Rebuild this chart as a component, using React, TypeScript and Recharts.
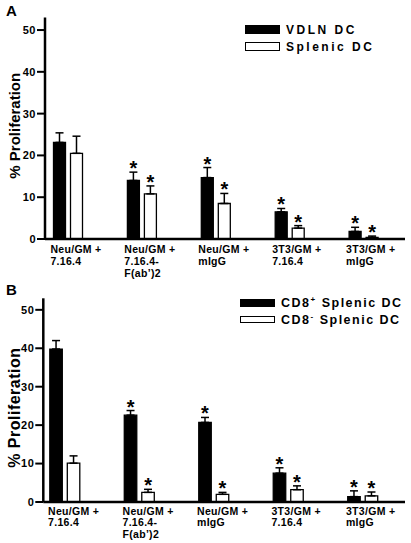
import React from 'react';
import { BarChart, Bar, XAxis, YAxis, ErrorBar, LabelList, Legend, Label } from 'recharts';

// ---------- data ----------
const categories = [
  'Neu/GM +|7.16.4',
  'Neu/GM +|7.16.4-|F(ab\u2019)2',
  'Neu/GM +|mIgG',
  '3T3/GM +|7.16.4',
  '3T3/GM +|mIgG',
];
const yTicks = [0, 10, 20, 30, 40, 50];

// Panel A
const vdln = [23.1, 14.0, 14.7, 6.5, 1.8];
const vdlnErr = [2.3, 2.0, 2.4, 0.8, 1.0];
const vdlnSig = [false, true, true, true, true];
const splenic = [20.5, 10.8, 8.5, 2.6, 0.4];
const splenicErr = [4.1, 1.9, 2.4, 0.6, 0.3];
const splenicSig = [false, true, true, true, true];

// Panel B
const cd8pos = [39.8, 22.6, 20.7, 7.5, 1.4];
const cd8posErr = [2.2, 1.2, 1.3, 1.4, 1.5];
const cd8posSig = [false, true, true, true, true];
const cd8neg = [10.1, 2.5, 2.0, 3.2, 1.6];
const cd8negErr = [1.9, 0.8, 0.5, 1.0, 1.0];
const cd8negSig = [false, true, true, true, true];

const dataA = categories.map((c, i) => ({
  cat: c,
  s1: vdln[i],
  e1: [0, vdlnErr[i]],
  s2: splenic[i],
  e2: [0, splenicErr[i]],
}));
const dataB = categories.map((c, i) => ({
  cat: c,
  s1: cd8pos[i],
  e1: [0, cd8posErr[i]],
  s2: cd8neg[i],
  e2: [0, cd8negErr[i]],
}));

const FONT = '"Liberation Sans", Arial, Helvetica, sans-serif';

const makeStar = (vals: number[], errs: number[], sig: boolean[]) => (p: any) => {
  const i = p.index;
  if (!sig[i]) return null;
  const x = Number(p.x);
  const y = Number(p.y);
  const w = Number(p.width);
  const h = Number(p.height);
  const unit = h / vals[i];
  const errTop = y - errs[i] * unit;
  return (
    <text
      key={'star' + i}
      x={x + w / 2}
      y={errTop + 3}
      textAnchor="middle"
      fontFamily={FONT}
      fontWeight={700}
      fontSize={20}
      fill="#000"
    >
      *
    </text>
  );
};

const makeXTick = (dx: number, firstDy: number, lineH: number) => (props: any) => {
  const { x, y, payload } = props;
  const lines = String(payload.value).split('|');
  return (
    <g>
      {lines.map((ln, k) => (
        <text
          key={k}
          x={Number(x) + dx}
          y={Number(y) + firstDy + k * lineH}
          textAnchor="start"
          fontFamily={FONT}
          fontWeight={700}
          fontSize={10.5}
          letterSpacing={0.3}
          fill="#000"
        >
          {ln}
        </text>
      ))}
    </g>
  );
};

const yLabel = (cx: number, dy: number, size: number, ls: number) => (props: any) => {
  const vb = props.viewBox || {};
  const cy = Number(vb.y) + Number(vb.height) / 2 + dy;
  return (
    <text
      x={cx}
      y={cy}
      transform={`rotate(-90, ${cx}, ${cy})`}
      textAnchor="middle"
      fontFamily={FONT}
      fontWeight={700}
      fontSize={size}
      letterSpacing={ls}
      fill="#000"
    >
      % Proliferation
    </text>
  );
};

const swatch = (filled: boolean, h: number) => (
  <span
    style={{
      display: 'inline-block',
      width: 35,
      height: h,
      boxSizing: 'border-box',
      background: filled ? '#000' : '#fff',
      border: '1.3px solid #000',
      marginRight: 6,
    }}
  />
);

const LegendA = () => (
  <div style={{ fontFamily: FONT, fontWeight: 700, fontSize: 12, letterSpacing: 2.5, color: '#000' }}>
    <div style={{ display: 'flex', alignItems: 'center', height: 17 }}>
      {swatch(true, 9)}
      VDLN DC
    </div>
    <div style={{ display: 'flex', alignItems: 'center', height: 17 }}>
      {swatch(false, 9)}
      Splenic DC
    </div>
  </div>
);

const supStyle: React.CSSProperties = { fontSize: 8, verticalAlign: 'baseline', position: 'relative', top: -5 };

const LegendB = () => (
  <div style={{ fontFamily: FONT, fontWeight: 700, fontSize: 12.5, letterSpacing: 1.5, color: '#000' }}>
    <div style={{ display: 'flex', alignItems: 'center', height: 17 }}>
      {swatch(true, 8)}
      <span>
        CD8<sup style={supStyle}>+</sup> Splenic DC
      </span>
    </div>
    <div style={{ display: 'flex', alignItems: 'center', height: 17 }}>
      {swatch(false, 7)}
      <span>
        CD8<sup style={supStyle}>-</sup> Splenic DC
      </span>
    </div>
  </div>
);

const tickStyle = { fontFamily: FONT, fontWeight: 700, fontSize: 11, fill: '#000', letterSpacing: 0.5 };

export default function App() {
  return (
    <div style={{ position: 'absolute', left: 0, top: 0, width: 411, height: 543, background: '#fff', overflow: 'hidden' }}>
      <div style={{ position: 'absolute', left: 6, top: 2, fontFamily: FONT, fontWeight: 900, fontSize: 15 }}>A</div>
      <div style={{ position: 'absolute', left: 6, top: 281, fontFamily: FONT, fontWeight: 900, fontSize: 15 }}>B</div>

      <div style={{ position: 'absolute', left: 0, top: 0 }}>
        <BarChart
          width={411}
          height={284}
          data={dataA}
          margin={{ top: 17.5, right: 6, bottom: 0, left: 0 }}
          barSize={12}
          barGap={5}
        >
          <XAxis
            dataKey="cat"
            height={45}
            padding={{ left: -13.5, right: 4 }}
            axisLine={{ stroke: '#000', strokeWidth: 2.5 }}
            tickLine={false}
            tickSize={0}
            tickMargin={0}
            interval={0}
            tick={makeXTick(-18, 14.3, 11.7)}
          />
          <YAxis
            width={45}
            domain={[0, 53]}
            ticks={yTicks}
            allowDataOverflow
            axisLine={{ stroke: '#000', strokeWidth: 2.5 }}
            tickLine={{ stroke: '#000', strokeWidth: 2 }}
            tickSize={8}
            tickMargin={1}
            tick={tickStyle}
          >
            <Label content={yLabel(20, -2.5, 15, 0)} />
          </YAxis>
          <Legend
            layout="vertical"
            align="center"
            verticalAlign="middle"
            content={LegendA}
            wrapperStyle={{ top: 21, left: 245, width: 170 }}
          />
          <Bar dataKey="s1" fill="#000" stroke="#000" strokeWidth={1.3} isAnimationActive={false}>
            <ErrorBar dataKey="e1" width={4} stroke="#000" strokeWidth={1.5} direction="y" />
            <LabelList content={makeStar(vdln, vdlnErr, vdlnSig)} />
          </Bar>
          <Bar dataKey="s2" fill="#fff" stroke="#000" strokeWidth={1.3} isAnimationActive={false}>
            <ErrorBar dataKey="e2" width={4} stroke="#000" strokeWidth={1.5} direction="y" />
            <LabelList content={makeStar(splenic, splenicErr, splenicSig)} />
          </Bar>
        </BarChart>
      </div>

      <div style={{ position: 'absolute', left: 0, top: 270 }}>
        <BarChart
          width={411}
          height={273}
          data={dataB}
          margin={{ top: 28.3, right: 6, bottom: 0, left: 0 }}
          barSize={12.5}
          barGap={5}
        >
          <XAxis
            dataKey="cat"
            height={41}
            padding={{ left: -15.5, right: 4.8 }}
            axisLine={{ stroke: '#000', strokeWidth: 2.5 }}
            tickLine={false}
            tickSize={0}
            tickMargin={0}
            interval={0}
            tick={makeXTick(-17, 13, 11.4)}
          />
          <YAxis
            width={43.3}
            domain={[0, 53]}
            ticks={yTicks}
            allowDataOverflow
            axisLine={{ stroke: '#000', strokeWidth: 2.5 }}
            tickLine={{ stroke: '#000', strokeWidth: 2 }}
            tickSize={8}
            tickMargin={1}
            tick={tickStyle}
          >
            <Label content={yLabel(20, 7.5, 16, 0.5)} />
          </YAxis>
          <Legend
            layout="vertical"
            align="center"
            verticalAlign="middle"
            content={LegendB}
            wrapperStyle={{ top: 24, left: 240, width: 171 }}
          />
          <Bar dataKey="s1" fill="#000" stroke="#000" strokeWidth={1.3} isAnimationActive={false}>
            <ErrorBar dataKey="e1" width={4} stroke="#000" strokeWidth={1.5} direction="y" />
            <LabelList content={makeStar(cd8pos, cd8posErr, cd8posSig)} />
          </Bar>
          <Bar dataKey="s2" fill="#fff" stroke="#000" strokeWidth={1.3} isAnimationActive={false}>
            <ErrorBar dataKey="e2" width={4} stroke="#000" strokeWidth={1.5} direction="y" />
            <LabelList content={makeStar(cd8neg, cd8negErr, cd8negSig)} />
          </Bar>
        </BarChart>
      </div>
    </div>
  );
}
